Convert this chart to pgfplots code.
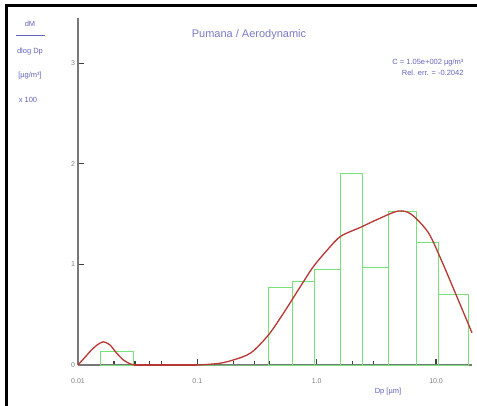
\documentclass[border=0pt]{standalone}
\usepackage{pgfplots}
\pgfplotsset{compat=1.18}
\usepackage{fontspec}
\setmainfont{Liberation Sans}
\definecolor{barg}{RGB}{120,225,120}
\definecolor{curv}{RGB}{185,55,50}
\definecolor{lblue}{RGB}{100,100,190}
\definecolor{axg}{RGB}{120,120,120}
\begin{document}
\begin{tikzpicture}[x=1pt,y=1pt]
\useasboundingbox (0,0) rectangle (477,-406);
\fill[white] (0,0) rectangle (477,-406);
\draw[black, line width=3pt] (6.5,-406) -- (6.5,-5.5) -- (477,-5.5);
\begin{axis}[
  at={(78pt,-365pt)}, anchor=south west,
  scale only axis, width=394pt, height=347pt,
  xmode=log, xmin=0.01, xmax=20, ymin=0, ymax=3.45,
  axis lines*=left,
  axis line style={axg, line width=1.8pt},
  xtick={0.01,0.1,1,10}, xticklabels={0.01,0.1,1.0,10.0},
  minor xtick={0.02,0.03,0.04,0.05,0.2,0.3,0.4,2,3,4},
  ytick={0,1,2,3}, yticklabels={0,1,2,3},
  tick align=inside,
  major tick length=6pt, minor tick length=4pt,
  tick style={black!75, line width=1.2pt},
  ticklabel style={font=\fontsize{7}{8}\selectfont, text=black!50},
  xticklabel style={anchor=center, yshift=-16pt},
  yticklabel style={anchor=center, xshift=-5pt},
  clip=false,
]
\addplot[ybar interval, draw=barg, fill=none, line width=1pt] coordinates {(0.0153,0.13) (0.0289,0.13)};
\addplot[ybar interval, draw=barg, fill=none, line width=1pt] coordinates {(0.1,0) (0.17,0) (0.26,0) (0.395,0.77) (0.63,0.83) (0.96,0.95) (1.59,1.90) (2.44,0.97) (4.03,1.53) (6.8,1.22) (10.4,0.70) (18.6,0.70)};
\addplot[curv, line width=1.3pt, smooth] coordinates {(0.01,0) (0.0115,0.08) (0.013,0.15) (0.0145,0.20) (0.0163,0.23) (0.0185,0.20) (0.021,0.12) (0.024,0.05) (0.0275,0.01) (0.03,0)};
\addplot[curv, line width=1.3pt] coordinates {(0.03,0) (0.1,0)};
\addplot[curv, line width=1.3pt, smooth] coordinates {(0.1,0) (0.15,0.015) (0.2,0.05) (0.28,0.12) (0.395,0.30) (0.53,0.52) (0.73,0.78) (0.94,0.98) (1.24,1.15) (1.59,1.28) (2.34,1.37) (3.26,1.45) (4.8,1.53) (6.17,1.50) (8.57,1.32) (11,1.05) (15.3,0.65) (20,0.32)};
\end{axis}
\node[lblue!85, font=\fontsize{11}{13}\selectfont] at (249,-35) {Pumana / Aerodynamic};
\node[lblue, font=\fontsize{7.5}{9}\selectfont, anchor=east] at (467,-63) {C = 1.05e+002 µg/m³};
\node[lblue, font=\fontsize{7.5}{9}\selectfont, anchor=east] at (467,-73) {Rel. err. = -0.2042};
\begin{scope}[lblue, font=\fontsize{7.5}{9}\selectfont]
\node at (30,-24) {dM};
\draw[line width=0.6pt] (16,-35) -- (45,-35);
\node at (30,-52) {dlog Dp};
\node at (30,-76) {[µg/m³]};
\node at (28,-100) {x 100};
\node at (388,-392) {Dp [µm]};
\end{scope}
\end{tikzpicture}
\end{document}
